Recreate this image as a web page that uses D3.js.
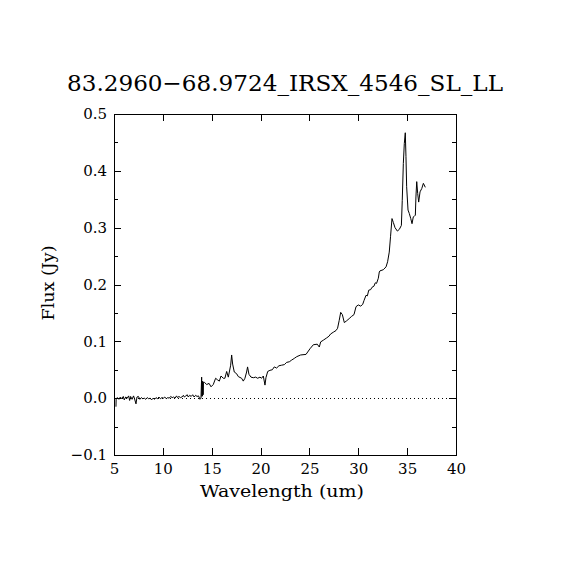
<!DOCTYPE html>
<html>
<head>
<meta charset="utf-8">
<script src="https://d3js.org/d3.v7.min.js"></script>
<style>
  body { margin: 0; background: #fff; }
  text { font-family: 'DejaVu Serif', serif; fill: #000; }
</style>
</head>
<body>
<div class="vis"></div>
<script>
  let width = 570
  let height = 570
  let margin = { top: 114, right: 114, bottom: 115, left: 114 }

  let title = '83.2960\u221268.9724_IRSX_4546_SL_LL'
  let xLabel = 'Wavelength (um)'
  let yLabel = 'Flux (Jy)'

  let xTicks = [5, 10, 15, 20, 25, 30, 35, 40]
  let yTicks = [-0.1, 0, 0.1, 0.2, 0.3, 0.4, 0.5]
  let yMinor = [-0.05, 0.05, 0.15, 0.25, 0.35, 0.45]

  // wavelength (um) and flux (Jy)
  let wavelength = [
    5.20, 5.22, 5.35, 5.50, 5.65, 5.80, 5.95, 6.05, 6.20, 6.35, 6.50, 6.60, 6.70, 6.85, 7.00, 7.10,
    7.25, 7.35, 7.50, 7.65, 7.80, 7.95, 8.10, 8.25, 8.40, 8.55, 8.70, 8.85, 9.00, 9.15, 9.30, 9.45,
    9.60, 9.75, 9.90, 10.05, 10.20, 10.35, 10.50, 10.65, 10.80, 10.95, 11.10, 11.25, 11.40, 11.50,
    11.65, 11.80, 11.95, 12.10, 12.20, 12.35, 12.50, 12.60, 12.75, 12.90, 13.05, 13.20, 13.35, 13.50,
    13.65, 13.80, 13.90, 13.97, 14.00, 14.03, 14.06, 14.09, 14.12, 14.15,
    14.24, 14.49, 14.73, 14.93, 15.16, 15.40, 15.61, 15.78, 15.95, 16.19, 16.35, 16.53, 16.70, 16.94,
    17.04, 17.14, 17.31, 17.55, 17.72, 18.06, 18.23, 18.40, 18.57, 18.67, 18.81, 19.02, 19.26, 19.50,
    19.70, 19.94, 20.10, 20.28, 20.45, 20.55, 20.73, 20.96, 21.20, 21.40, 21.64, 21.88, 22.15, 22.43,
    22.67, 22.94, 23.18, 23.45, 23.70, 24.10, 24.65, 25.06, 25.40, 25.80, 26.01, 26.15, 26.42, 26.76,
    27.00, 27.17, 27.44, 27.72, 27.88, 28.05, 28.20, 28.37, 28.57, 28.80, 29.07, 29.32, 29.56, 29.77,
    30.00, 30.25, 30.45, 30.59, 30.79, 30.93, 31.07, 31.27, 31.40, 31.60, 31.74, 31.87, 32.05, 32.15,
    32.22, 32.56, 32.84, 33.00, 33.17, 33.30, 33.45, 33.59, 33.76, 34.00, 34.20, 34.41, 34.50, 34.61,
    34.71, 34.81, 34.88, 34.95, 35.09, 35.22, 35.37, 35.50, 35.63, 35.73, 35.84, 35.90, 35.98, 36.08,
    36.18, 36.32, 36.50, 36.66, 36.86
  ]
  let flux = [
    -0.015, -0.001, 0.001, -0.002, 0.002, -0.001, 0.003, -0.003, 0.002, 0.000, 0.004, -0.004, 0.003, -0.002, 0.004, -0.001,
    -0.010, 0.002, 0.003, -0.002, 0.001, -0.001, 0.000, -0.002, 0.001, -0.001, 0.000, -0.003, 0.000, -0.002, 0.001, -0.001,
    0.002, -0.001, 0.001, 0.000, 0.002, -0.001, 0.001, 0.000, 0.003, 0.001, 0.002, 0.000, 0.004, 0.001,
    0.003, 0.001, 0.002, 0.005, 0.002, 0.004, 0.006, 0.002, 0.005, 0.003, 0.006, 0.002, 0.005, 0.003,
    0.004, -0.002, 0.000, 0.037, 0.003, 0.030, 0.004, 0.029, 0.006, 0.028,
    0.028, 0.024, 0.026, 0.020, 0.024, 0.035, 0.032, 0.030, 0.039, 0.035, 0.035, 0.047, 0.037, 0.058,
    0.076, 0.060, 0.046, 0.043, 0.038, 0.035, 0.030, 0.035, 0.046, 0.055, 0.042, 0.037, 0.036, 0.037,
    0.035, 0.037, 0.035, 0.039, 0.023, 0.036, 0.047, 0.049, 0.050, 0.055, 0.053, 0.057, 0.058, 0.059,
    0.063, 0.064, 0.067, 0.070, 0.073, 0.076, 0.077, 0.087, 0.094, 0.095, 0.090, 0.099, 0.102, 0.106,
    0.109, 0.113, 0.116, 0.119, 0.123, 0.137, 0.151, 0.147, 0.133, 0.136, 0.140, 0.144, 0.147, 0.161,
    0.164, 0.162, 0.165, 0.172, 0.181, 0.180, 0.190, 0.191, 0.195, 0.197, 0.203, 0.202, 0.211, 0.222,
    0.224, 0.226, 0.231, 0.240, 0.257, 0.284, 0.316, 0.309, 0.300, 0.294, 0.297, 0.304, 0.348, 0.413,
    0.448, 0.467, 0.425, 0.372, 0.331, 0.325, 0.316, 0.307, 0.319, 0.320, 0.322, 0.354, 0.381, 0.360,
    0.345, 0.363, 0.369, 0.378, 0.371
  ]

  let data = wavelength.map((w, i) => ({ w: w, f: flux[i] }))

  let svg = d3.select('.vis').append('svg')
    .attr('width', width)
    .attr('height', height)
    .attr('viewBox', [0, 0, width, height])

  let x = d3.scaleLinear()
    .domain([5, 40])
    .range([margin.left, width - margin.right])

  let y = d3.scaleLinear()
    .domain([-0.1, 0.5])
    .range([height - margin.bottom, margin.top])

  let fmtY = d3.format('.1f')

  // ticks point inward on all four sides
  let axisGroup = (axis, tx, ty) =>
    svg.append('g')
      .attr('transform', `translate(${tx},${ty})`)
      .call(axis)
      .call((g) => g.select('.domain').remove())
      .call((g) => g.selectAll('line').attr('shape-rendering', 'crispEdges'))
      .call((g) => g.selectAll('text').style('font-size', '15px').style('font-family', 'DejaVu Serif'))

  axisGroup(d3.axisBottom(x).tickValues(xTicks).tickSize(-7).tickPadding(8).tickFormat(d3.format('d')),
    0, height - margin.bottom)
  axisGroup(d3.axisTop(x).tickValues(xTicks).tickSize(-7).tickFormat(''), 0, margin.top)
  axisGroup(d3.axisLeft(y).tickValues(yTicks).tickSize(-7).tickPadding(7).tickFormat(fmtY), margin.left, 0)
  axisGroup(d3.axisLeft(y).tickValues(yMinor).tickSize(-4).tickFormat(''), margin.left, 0)
  axisGroup(d3.axisRight(y).tickValues(yTicks).tickSize(-7).tickFormat(''), width - margin.right, 0)
  axisGroup(d3.axisRight(y).tickValues(yMinor).tickSize(-4).tickFormat(''), width - margin.right, 0)

  svg.selectAll('.tick text').attr('fill', '#000')
  svg.selectAll('.tick line').attr('stroke', '#000')

  // frame
  svg.append('rect')
    .attr('x', margin.left)
    .attr('y', margin.top)
    .attr('width', width - margin.left - margin.right)
    .attr('height', height - margin.top - margin.bottom)
    .attr('fill', 'none')
    .attr('stroke', '#000')
    .attr('shape-rendering', 'crispEdges')

  // zero line
  svg.append('line')
    .attr('x1', x(5)).attr('x2', x(40))
    .attr('y1', y(0)).attr('y2', y(0))
    .attr('stroke', '#000')
    .attr('stroke-dasharray', '1,3')
    .attr('shape-rendering', 'crispEdges')

  let line = d3.line()
    .x((d) => x(d.w))
    .y((d) => y(d.f))

  svg.append('path')
    .datum(data)
    .attr('d', line)
    .attr('fill', 'none')
    .attr('stroke', '#000')
    .attr('stroke-width', 1)

  svg.append('text')
    .attr('x', width / 2)
    .attr('y', 91)
    .attr('text-anchor', 'middle')
    .attr('textLength', 436)
    .attr('lengthAdjust', 'spacingAndGlyphs')
    .style('font-size', '22.5px')
    .text(title)

  svg.append('text')
    .attr('x', 282)
    .attr('y', 497)
    .attr('text-anchor', 'middle')
    .attr('textLength', 164)
    .attr('lengthAdjust', 'spacingAndGlyphs')
    .style('font-size', '17px')
    .text(xLabel)

  svg.append('text')
    .attr('transform', `translate(54,283)rotate(-90)`)
    .attr('text-anchor', 'middle')
    .attr('textLength', 75)
    .attr('lengthAdjust', 'spacingAndGlyphs')
    .style('font-size', '17px')
    .text(yLabel)
</script>
</body>
</html>
